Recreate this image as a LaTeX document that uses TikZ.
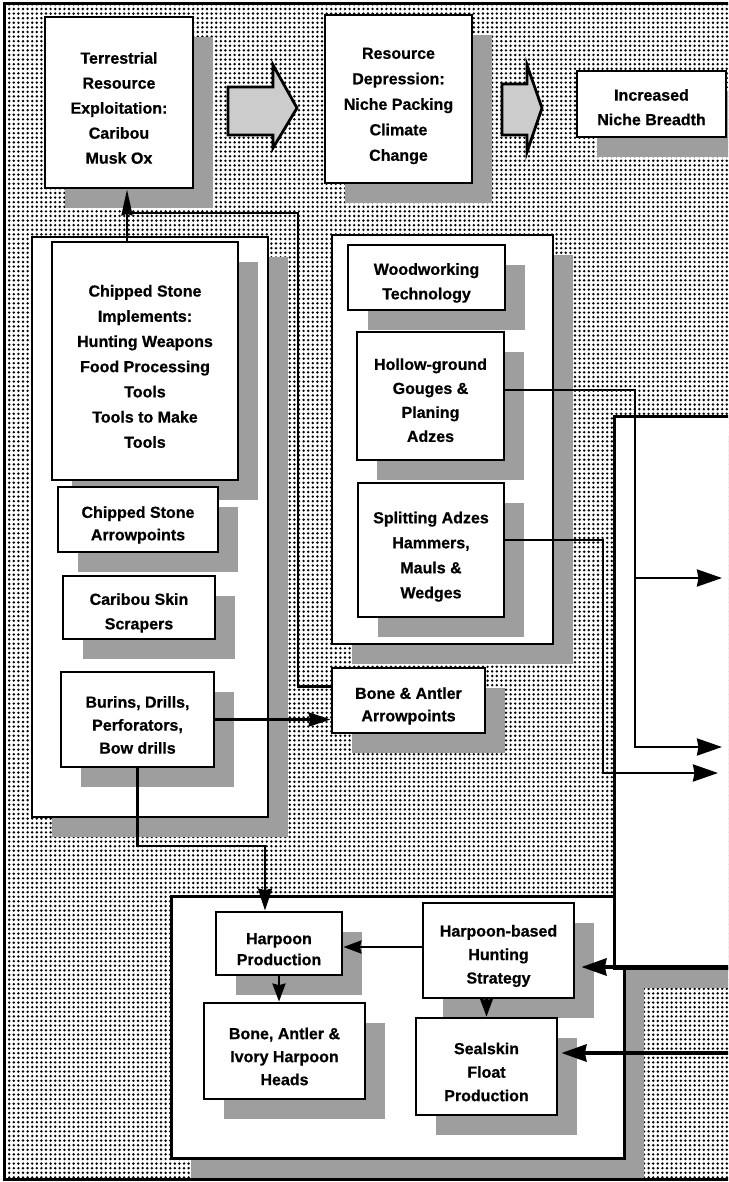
\documentclass[tikz,border=0pt]{standalone}
\usepackage{fontspec}
\setmainfont{Liberation Sans}[BoldFeatures={FakeBold=0.7}]
\usetikzlibrary{arrows.meta,shadows,calc,patterns.meta}
\definecolor{shade}{gray}{0.62}
\definecolor{arrowfill}{gray}{0.80}
\newcommand\txtdown{\rule{0pt}{22.5pt}}
\begin{document}
\begin{tikzpicture}[x=1pt,y=-1pt,
  shad/.style={drop shadow={shadow xshift=20pt,shadow yshift=-20pt,fill=shade,opacity=1}},
  box/.style={shad,draw=black,line width=2.8pt,fill=white,inner sep=0pt,align=center,
    font=\bfseries\fontsize{16}{24.5}\selectfont},
  cont/.style={shad,draw=black,line width=2.8pt,fill=white,inner sep=0pt},
  conn/.style={line width=2.5pt,line join=miter},
  fatconn/.style={line width=3.8pt},
  bigtip/.style={-{Stealth[length=25pt,width=17pt,inset=1.5pt]}},
  midtip/.style={-{Stealth[length=22pt,width=14pt,inset=1.5pt]}},
  smalltip/.style={-{Stealth[length=18pt,width=13pt,inset=1.5pt]}},
  uptip/.style={-{Stealth[length=26pt,width=11pt,inset=1.5pt]}},
  blockarrow/.style={draw=black,line width=2.8pt,fill=arrowfill,line join=miter}]
\useasboundingbox (0,0) rectangle (728,1182);
\clip (0,0) rectangle (728,1182);
% background frame
\fill[white] (4,4) rectangle (740,1179);
\fill[pattern={Dots[distance=4.6pt,radius=1.35pt]},pattern color=black] (4,4) rectangle (740,1179);
\draw[line width=3pt] (740,1179) -- (4,1179) -- (4,4) -- (740,4);

% top row
\node[box,minimum width=148pt,minimum height=171pt,font=\bfseries\fontsize{16}{25}\selectfont] (terr) at (119,102.5)
  {\txtdown Terrestrial\\Resource\\Exploitation:\\Caribou\\Musk Ox};
\node[box,minimum width=147pt,minimum height=168pt,font=\bfseries\fontsize{16}{25.5}\selectfont] (resdep) at (398.5,99)
  {\rule{0pt}{25pt}Resource\\Depression:\\Niche Packing\\Climate\\Change};
\node[box,minimum width=149pt,minimum height=66pt] (niche) at (651.5,104)
  {\rule{0pt}{18pt}Increased\\Niche Breadth};
\draw[blockarrow] (228,87) -- (273,87) -- (273,65) -- (297,108) -- (273,148) -- (273,135) -- (228,135) -- cycle;
\draw[blockarrow] (502,84) -- (527,84) -- (527,65) -- (542,108) -- (527,152) -- (527,135) -- (502,135) -- cycle;

% left container
\node[cont,minimum width=236pt,minimum height=580pt] (leftC) at (150,527) {};
\node[box,minimum width=186pt,minimum height=238pt,font=\bfseries\fontsize{16}{25.2}\selectfont] (chip) at (145,361)
  {\txtdown Chipped Stone\\Implements:\\Hunting Weapons\\Food Processing\\Tools\\Tools to Make\\Tools};
\node[box,minimum width=160pt,minimum height=65pt,font=\bfseries\fontsize{16}{22.5}\selectfont] (arrowpts) at (138,519.5)
  {\txtdown Chipped Stone\\Arrowpoints};
\node[box,minimum width=152pt,minimum height=63pt] (scrapers) at (139,607.5)
  {\txtdown Caribou Skin\\Scrapers};
\node[box,minimum width=153pt,minimum height=95pt,font=\bfseries\fontsize{16}{23}\selectfont] (burins) at (137.5,719.5)
  {\txtdown Burins, Drills,\\Perforators,\\Bow drills};

% middle container
\node[cont,minimum width=221pt,minimum height=409pt] (midC) at (442.5,439.5) {};
\node[box,minimum width=157pt,minimum height=65pt] (wood) at (426.5,277.5)
  {\txtdown Woodworking\\Technology};
\node[box,minimum width=147pt,minimum height=128pt,font=\bfseries\fontsize{16}{24}\selectfont] (hollow) at (430.5,396)
  {\rule{0pt}{20pt}Hollow-ground\\Gouges \&\\Planing\\Adzes};
\node[box,minimum width=146pt,minimum height=134pt,font=\bfseries\fontsize{16}{25}\selectfont] (split) at (431,550)
  {\rule{0pt}{25pt}Splitting Adzes\\Hammers,\\Mauls \&\\Wedges};
\node[box,minimum width=153pt,minimum height=65pt,font=\bfseries\fontsize{16}{22.5}\selectfont] (bonearr) at (408.5,700.5)
  {\txtdown Bone \& Antler\\Arrowpoints};

% bottom container and big right box
\node[cont,minimum width=453pt,minimum height=262pt,anchor=north west] (botC) at (170,895) {};
\node[cont,minimum width=130pt,minimum height=552pt,anchor=north west] (bigR) at (613,415) {};
\node[box,minimum width=126pt,minimum height=63pt,font=\bfseries\fontsize{16}{21}\selectfont] (harpP) at (279,943.5)
  {\txtdown Harpoon\\Production};
\node[box,minimum width=161pt,minimum height=96pt,font=\bfseries\fontsize{16}{23}\selectfont] (heads) at (284.5,1051)
  {\txtdown Bone, Antler \&\\Ivory Harpoon\\Heads};
\node[box,minimum width=151pt,minimum height=95pt,font=\bfseries\fontsize{16}{23.5}\selectfont] (hunt) at (498.5,950.5)
  {\txtdown Harpoon-based\\Hunting\\Strategy};
\node[box,minimum width=141pt,minimum height=97pt,font=\bfseries\fontsize{16}{23.5}\selectfont] (seal) at (486.5,1066.5)
  {\txtdown Sealskin\\Float\\Production};

% junction coordinates
\coordinate (j1) at (127,213);
\coordinate (j2) at (298,213);
\coordinate (j3) at (265,846);
\coordinate (j4) at (635,578);
\coordinate (j5) at (603,773);
\coordinate (e1) at (722,578);
\coordinate (e2) at (722,747);
\coordinate (e3) at (718,773);
\coordinate (s1) at (732,967);
\coordinate (s2) at (732,1053);

% connectors
\draw[conn,uptip] (chip.north -| j1) -- (terr.south -| j1);
\draw[conn] ($(bonearr.north west)+(0,20)$) -| (j2) -- (j1);
\draw[conn,midtip] (burins.east) -- (burins.east -| bonearr.west);
\draw[conn,midtip] (burins.south) |- (j3) -- (harpP.north -| j3);
\draw[conn,bigtip] ($(hollow.east)+(0,-6)$) -| (j4 |- e2) -- (e2);
\draw[conn,bigtip] (j4) -- (e1);
\draw[conn,bigtip] ($(split.east)+(0,-10)$) -| (j5) -- (e3);
\coordinate (t1) at ($(s1 -| hunt.east)+(6,0)$);
\coordinate (t2) at ($(s2 -| seal.east)+(3,0)$);
\draw[fatconn,bigtip] (s1) -- (t1);
\draw[fatconn,bigtip] (s2) -- (t2);
\coordinate (h1) at ($(hunt.west)+(0,-3.5)$);
\draw[conn,smalltip] (h1) -- (h1 -| harpP.east);
\draw[conn,smalltip] (harpP.south) -- (heads.north -| harpP.south);
\draw[conn,smalltip] (hunt.south -| seal.north) -- (seal.north);
\end{tikzpicture}
\end{document}
